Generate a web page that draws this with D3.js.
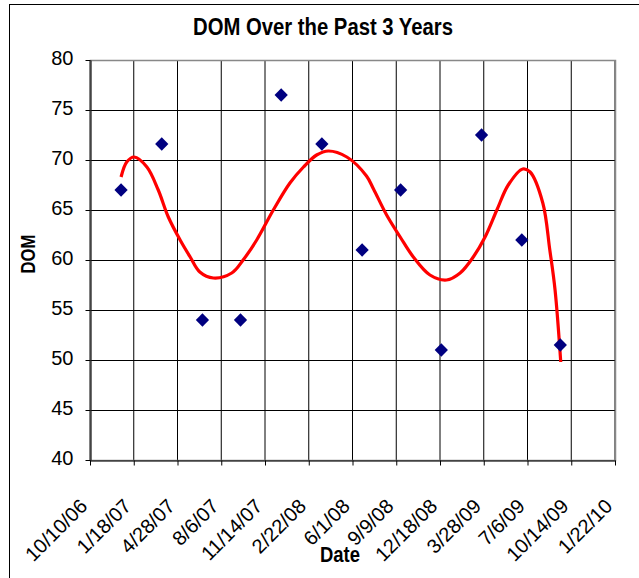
<!DOCTYPE html>
<html>
<head>
<meta charset="utf-8">
<script src="https://cdn.jsdelivr.net/npm/d3@7"></script>
<style>
  html, body { margin: 0; padding: 0; background: #fff; }
  svg { display: block; font-family: "Liberation Sans", Arial, sans-serif; }
</style>
</head>
<body>
<div id="chart"></div>
<script>
// tick labels on the date axis (every 100 days)
const xTickLabels = ['10/10/06', '1/18/07', '4/28/07', '8/6/07', '11/14/07', '2/22/08',
    '6/1/08', '9/9/08', '12/18/08', '3/28/09', '7/6/09', '10/14/09', '1/22/10'];
const yTicks = [40, 45, 50, 55, 60, 65, 70, 75, 80];

// quarterly DOM readings
const obsDates = ['12/20/06', '3/23/07', '6/24/07', '9/19/07', '12/21/07', '3/23/08',
    '6/23/08', '9/19/08', '12/21/08', '3/23/09', '6/23/09', '9/19/09'];
const domValues = [67, 71.6, 54, 54, 76.5, 71.6, 61, 67, 51, 72.5, 62, 51.5];

// trendline
const trendDates = ['12/20/06', '1/2/07', '1/19/07', '2/17/07', '3/15/07', '4/7/07', '5/4/07',
    '5/27/07', '6/18/07', '7/19/07', '8/30/07', '9/25/07', '10/26/07', '12/3/07', '1/10/08',
    '2/10/08', '3/11/08', '4/7/08', '5/19/08', '7/3/08', '7/19/08', '8/18/08', '9/18/08',
    '10/18/08', '11/25/08', '1/2/09', '2/2/09', '3/4/09', '3/31/09', '4/27/09', '5/23/09',
    '6/25/09', '7/12/09', '8/10/09', '8/26/09', '9/7/09', '9/20/09'];
const trendValues = [68.3, 69.8, 70.3, 69.3, 67.0, 64.3, 62.0, 60.3, 58.8, 58.2, 58.7, 60.0,
    62.0, 65.0, 67.7, 69.3, 70.5, 70.9, 70.3, 68.4, 67.1, 64.5, 62.3, 60.3, 58.5, 58.0,
    58.7, 60.3, 62.3, 65.0, 67.5, 69.1, 68.8, 65.7, 61.0, 57.0, 49.8];

function drawChart(container) {
    const W = 639, H = 578;
    const plot = {left: 90, right: 615, top: 60, bottom: 460};
    const parse = d3.timeParse('%m/%d/%y');
    const fmt = d => `${d.getMonth() + 1}/${d.getDate()}/${d3.timeFormat('%y')(d)}`;

    const tickDates = xTickLabels.map(parse);
    const points = obsDates.map((d, i) => ({date: parse(d), value: domValues[i]}));
    const trend = trendDates.map((d, i) => ({date: parse(d), value: trendValues[i]}));

    const x = d3.scaleTime()
        .domain(d3.extent(tickDates))
        .range([plot.left, plot.right]);
    const y = d3.scaleLinear()
        .domain([40, 80])
        .range([plot.bottom, plot.top]);

    const svg = d3.select(container)
        .append('svg')
        .attr('width', W)
        .attr('height', H);

    // chart area frame (only left and top show in the picture)
    svg.append('rect')
        .attr('x', 9.5).attr('y', 4.5)
        .attr('width', W + 20).attr('height', H + 20)
        .attr('fill', '#fff')
        .attr('stroke', '#000');

    // gridlines
    const grid = svg.append('g').attr('class', 'grid');
    grid.selectAll('line.h')
        .data(yTicks)
        .enter()
        .append('line')
        .attr('x1', plot.left).attr('x2', plot.right)
        .attr('y1', d => Math.round(y(d)) + 0.5)
        .attr('y2', d => Math.round(y(d)) + 0.5)
        .attr('stroke', '#000');
    grid.selectAll('line.v')
        .data(tickDates)
        .enter()
        .append('line')
        .attr('x1', d => x(d)).attr('x2', d => x(d))
        .attr('y1', plot.top).attr('y2', plot.bottom)
        .attr('stroke', '#000');

    // plot area border
    svg.append('rect')
        .attr('x', plot.left + 0.5).attr('y', plot.top + 0.5)
        .attr('width', plot.right - plot.left)
        .attr('height', plot.bottom - plot.top)
        .attr('fill', 'none')
        .attr('stroke', '#888')
        .attr('stroke-width', 1.5);

    // axes
    const xAxis = svg.append('g')
        .attr('transform', `translate(0,${plot.bottom + 0.5})`)
        .call(d3.axisBottom(x).tickValues(tickDates).tickFormat(fmt).tickSize(5).tickSizeOuter(0));
    xAxis.selectAll('text')
        .attr('font-size', 20)
        .attr('fill', '#000')
        .attr('text-anchor', 'end')
        .attr('y', 0).attr('dy', 0)
        .attr('transform', 'translate(-2,47) rotate(-45)');

    const yAxis = svg.append('g')
        .attr('transform', `translate(${plot.left + 0.5},0)`)
        .call(d3.axisLeft(y).tickValues(yTicks).tickSize(5).tickSizeOuter(0).tickPadding(12));
    yAxis.selectAll('text')
        .attr('font-size', 20)
        .attr('fill', '#000')
        .attr('dy', '0.2em');

    [xAxis, yAxis].forEach(a => {
        a.select('.domain').attr('stroke', '#000');
        a.selectAll('.tick line').attr('stroke', '#000');
        a.attr('font-family', null);
    });

    // trendline
    const line = d3.line()
        .x(d => x(d.date))
        .y(d => y(d.value))
        .curve(d3.curveCatmullRom);
    svg.append('path')
        .datum(trend)
        .attr('d', line)
        .attr('fill', 'none')
        .attr('stroke', '#ff0000')
        .attr('stroke-width', 3.2)
        .attr('stroke-linejoin', 'round');

    // diamonds
    const diamond = d3.symbol().type(d3.symbolSquare).size(88);
    svg.selectAll('path.pt')
        .data(points)
        .enter()
        .append('path')
        .attr('class', 'pt')
        .attr('d', diamond)
        .attr('transform', d => `translate(${x(d.date)},${y(d.value)}) rotate(45)`)
        .attr('fill', '#000080');

    // titles
    svg.append('text')
        .attr('x', 323).attr('y', 35)
        .attr('text-anchor', 'middle')
        .attr('font-size', 23)
        .attr('font-weight', 'bold')
        .attr('textLength', 260)
        .attr('lengthAdjust', 'spacingAndGlyphs')
        .text('DOM Over the Past 3 Years');

    svg.append('text')
        .attr('x', 340).attr('y', 562)
        .attr('text-anchor', 'middle')
        .attr('font-size', 22)
        .attr('font-weight', 'bold')
        .attr('textLength', 40)
        .attr('lengthAdjust', 'spacingAndGlyphs')
        .text('Date');

    svg.append('text')
        .attr('transform', 'translate(35,254) rotate(-90)')
        .attr('text-anchor', 'middle')
        .attr('font-size', 21)
        .attr('font-weight', 'bold')
        .attr('textLength', 39)
        .attr('lengthAdjust', 'spacingAndGlyphs')
        .text('DOM');
}

drawChart(document.getElementById('chart'));
</script>
</body>
</html>
